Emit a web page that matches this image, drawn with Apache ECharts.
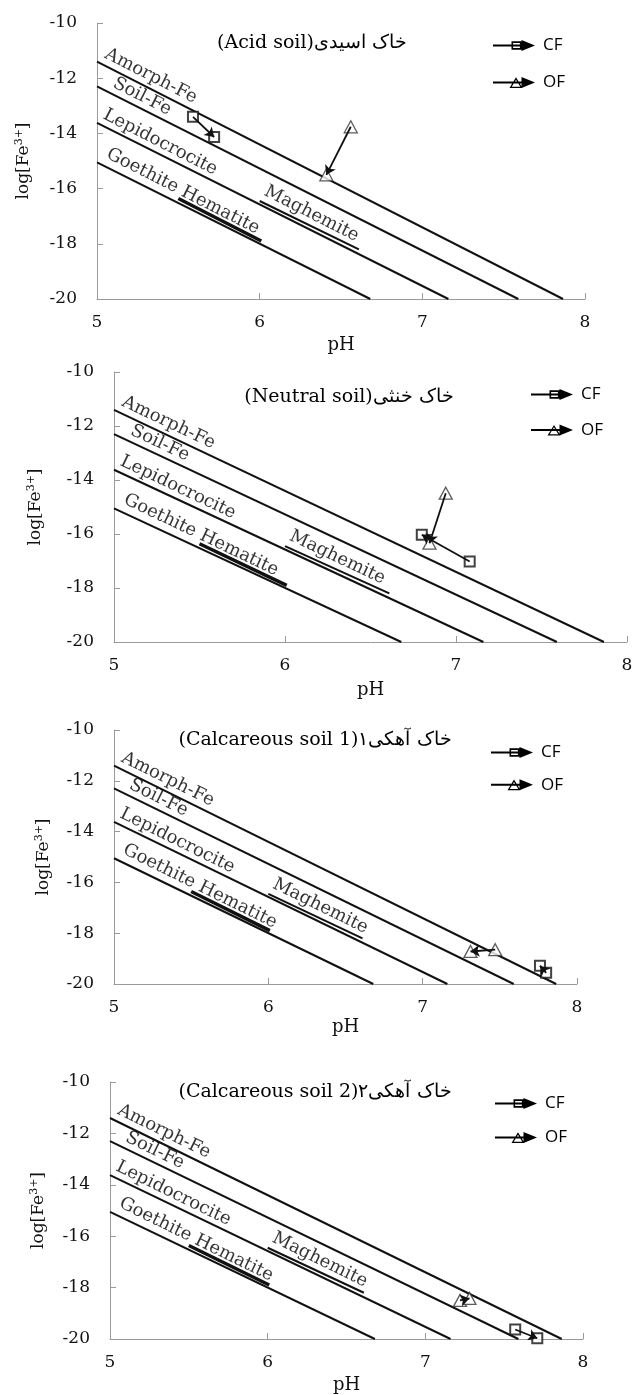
<!DOCTYPE html>
<html><head><meta charset="utf-8">
<script src="https://cdn.jsdelivr.net/npm/echarts@6/dist/echarts.min.js"></script>
<style>html,body{margin:0;padding:0;background:#fff}#chart{width:636px;height:1395px}</style>
</head><body><div id="chart"></div>
<script>
// ---------- data ----------
const phTicks = [5, 6, 7, 8];
const logFeTicks = [-20, -18, -16, -14, -12, -10];
const amorphFe = [[5, -11.4], [7.865, -20]];
const soilFe = [[5, -12.3], [7.59, -20]];
const lepidocrocite = [[5, -13.62], [7.16, -20]];
const goethite = [[5, -15.05], [6.68, -20]];
const hematite = [[5.5, -16.36], [6.01, -17.9]];
const maghemite = [[6.0, -16.45], [6.61, -18.2]];
const curveLabels = ['Amorph-Fe', 'Soil-Fe', 'Lepidocrocite', 'Goethite Hematite', 'Maghemite'];
const curveLabelAt = [[5.03, -11.38], [5.08, -12.44], [5.02, -13.58], [5.04, -15.0], [6.01, -16.35]];
const panelTitles = ['(Acid soil)خاک اسیدی', '(Neutral soil)خاک خنثی', '(Calcareous soil 1)خاک آهکی۱', '(Calcareous soil 2)خاک آهکی۲'];
const cfAcid = [[5.59, -13.4], [5.72, -14.13]];
const ofAcid = [[6.56, -13.76], [6.41, -15.5]];
const cfNeutral = [[7.08, -17.02], [6.8, -16.03]];
const ofNeutral = [[6.94, -14.49], [6.845, -16.34]];
const cfCalc1 = [[7.8, -19.56], [7.76, -19.28]];
const ofCalc1 = [[7.47, -18.65], [7.31, -18.72]];
const cfCalc2 = [[7.57, -19.63], [7.71, -19.97]];
const ofCalc2 = [[7.22, -18.5], [7.28, -18.42]];
const cfPoints = [cfAcid, cfNeutral, cfCalc1, cfCalc2];
const ofPoints = [ofAcid, ofNeutral, ofCalc1, ofCalc2];

// ---------- layout / style ----------
const panels = [
  {grid: {left: 97, top: 23, width: 488, height: 276}, yNameGap: 64, xNameGap: 37, title: [312, 43], legend: {left: 493, top: 37, gap: 20}},
  {grid: {left: 114, top: 372, width: 513, height: 270}, yNameGap: 69, xNameGap: 39, title: [349, 397], legend: {left: 531, top: 386, gap: 18.6}},
  {grid: {left: 114, top: 730, width: 463, height: 254}, yNameGap: 61, xNameGap: 34, title: [315, 740], legend: {left: 491, top: 744, gap: 15.3}},
  {grid: {left: 110, top: 1082, width: 473, height: 259}, yNameGap: 62, xNameGap: 37, title: [315, 1092], legend: {left: 495, top: 1095, gap: 17}}
];
const SERIF = 'DejaVu Serif';
const INK = '#111';
const TEXT = '#111';
const AXIS = '#9a9a9a';
const cfIcon = 'path://M0,5L30,5L30,7L0,7Z M18.5,1.8L28.5,1.8L28.5,10.2L18.5,10.2Z M20.1,3.4L20.1,8.6L26.9,8.6L26.9,3.4Z M28.5,0.5L42,6L28.5,11.5Z';
const ofIcon = 'path://M0,5L30,5L30,7L0,7Z M16.5,11.5L23,0.8L29.5,11.5Z M18.7,10.2L27.3,10.2L23,3.2Z M28.5,0.5L42,6L28.5,11.5Z';

function build(angles) {
  const grid = [], xAxis = [], yAxis = [], series = [], legend = [], graphic = [];
  panels.forEach((p, i) => {
    grid.push(Object.assign({containLabel: false}, p.grid));
    xAxis.push({
      type: 'value', gridIndex: i, min: phTicks[0], max: phTicks[phTicks.length - 1], interval: 1,
      name: 'pH', nameLocation: 'middle', nameGap: p.xNameGap,
      nameTextStyle: {fontFamily: SERIF, fontSize: 18, color: TEXT},
      axisLine: {lineStyle: {color: AXIS, width: 1}},
      axisTick: {inside: true, length: 6, lineStyle: {color: AXIS}},
      axisLabel: {margin: 15, fontFamily: SERIF, fontSize: 17, color: TEXT},
      splitLine: {show: false}
    });
    yAxis.push({
      type: 'value', gridIndex: i, min: logFeTicks[0], max: logFeTicks[logFeTicks.length - 1], interval: 2,
      name: 'log[Fe{sup|3+}]', nameLocation: 'middle', nameGap: p.yNameGap, nameRotate: 90,
      nameTextStyle: {fontFamily: SERIF, fontSize: 17, color: TEXT,
        rich: {sup: {fontFamily: SERIF, fontSize: 11, color: TEXT, padding: [0, 0, 8, 0]}}},
      axisLine: {show: true, lineStyle: {color: AXIS, width: 1}},
      axisTick: {show: true, inside: true, length: 6, lineStyle: {color: AXIS}},
      axisLabel: {margin: 20, fontFamily: SERIF, fontSize: 17, color: TEXT},
      splitLine: {show: false}
    });
    const base = {xAxisIndex: i, yAxisIndex: i, silent: true};
    [amorphFe, soilFe, lepidocrocite, goethite].forEach(d => {
      series.push(Object.assign({type: 'line', data: d, symbol: 'none', lineStyle: {color: INK, width: 2}, z: 2}, base));
    });
    series.push(Object.assign({type: 'line', data: hematite, symbol: 'none', lineStyle: {color: INK, width: 3.5}, z: 2}, base));
    series.push(Object.assign({type: 'line', data: maghemite, symbol: 'none', lineStyle: {color: INK, width: 2}, z: 2}, base));
    series.push(Object.assign({
      type: 'scatter', symbolSize: 0, z: 5,
      data: curveLabels.map((n, k) => ({name: n, value: curveLabelAt[k]})),
      label: {show: true, formatter: '{b}', position: [0, 0], align: 'left', verticalAlign: 'bottom',
        rotate: angles[i], fontFamily: SERIF, fontSize: 18, color: '#000', textBorderWidth: 0}
    }, base));
    series.push(Object.assign({
      name: 'CF', type: 'scatter', data: cfPoints[i], symbol: 'rect', symbolSize: 10,
      itemStyle: {color: '#fff', borderColor: INK, borderWidth: 2}, z: 3
    }, base));
    series.push(Object.assign({
      name: 'OF', type: 'scatter', data: ofPoints[i], symbol: 'triangle', symbolSize: [13, 12],
      itemStyle: {color: '#fff', borderColor: '#333', borderWidth: 1.3}, z: 3
    }, base));
    series.push(Object.assign({
      type: 'lines', coordinateSystem: 'cartesian2d', data: [{coords: cfPoints[i]}],
      symbol: ['none', 'arrow'], symbolSize: 9, lineStyle: {color: INK, width: 1.8, opacity: 1, curveness: 0}, z: 4
    }, base));
    series.push(Object.assign({
      type: 'lines', coordinateSystem: 'cartesian2d', data: [{coords: ofPoints[i]}],
      symbol: ['none', 'arrow'], symbolSize: 9, lineStyle: {color: INK, width: 1.8, opacity: 1, curveness: 0}, z: 4
    }, base));
    legend.push({
      orient: 'vertical', left: p.legend.left, top: p.legend.top, itemWidth: 42, itemHeight: 12,
      itemGap: p.legend.gap, selectedMode: false, padding: 0,
      itemStyle: {color: '#000', opacity: 1, borderWidth: 0},
      data: [
        {name: 'CF', icon: cfIcon, itemStyle: {color: '#000', opacity: 1, borderWidth: 0}},
        {name: 'OF', icon: ofIcon, itemStyle: {color: '#000', opacity: 1, borderWidth: 0}}
      ],
      textStyle: {fontFamily: 'Open Sans', fontSize: 17, color: '#000', lineHeight: 12, padding: [0, 0, 0, 3]}
    });
    graphic.push({
      type: 'text', x: p.title[0], y: p.title[1], silent: true,
      style: {text: panelTitles[i], align: 'center', verticalAlign: 'middle', fontFamily: SERIF, fontSize: 19, fill: '#000'}
    });
  });
  return {animation: false, backgroundColor: '#fff', grid, xAxis, yAxis, series, legend, graphic};
}

const chart = echarts.init(document.getElementById('chart'), null, {renderer: 'canvas'});
chart.setOption(build([0, 0, 0, 0]));
const angles = panels.map((p, i) => {
  const a = chart.convertToPixel({gridIndex: i}, amorphFe[0]);
  const b = chart.convertToPixel({gridIndex: i}, amorphFe[1]);
  return -Math.atan2(b[1] - a[1], b[0] - a[0]) * 180 / Math.PI;
});
chart.setOption(build(angles), true);
</script></body></html>
